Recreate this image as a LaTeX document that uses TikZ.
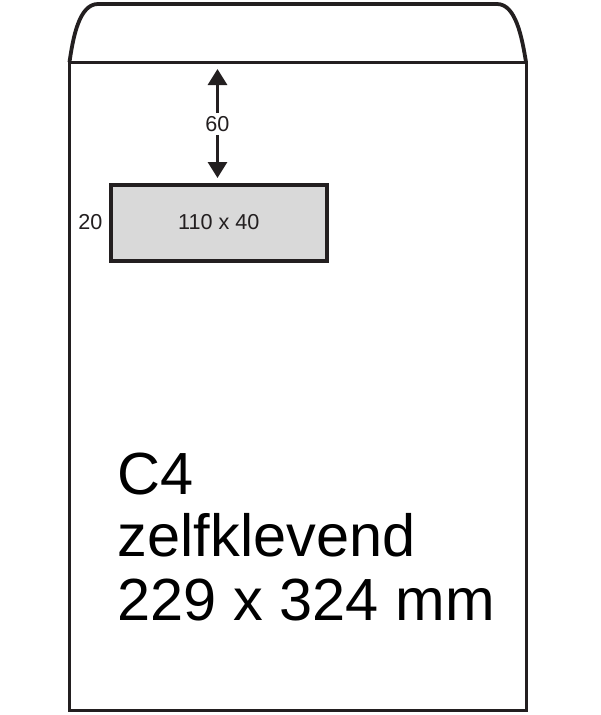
\documentclass[tikz,border=0pt]{standalone}
\usepackage{fontspec}
\setmainfont{Liberation Sans}
\usetikzlibrary{arrows.meta}
\definecolor{ink}{HTML}{231F20}
\definecolor{pane}{HTML}{D9D9D9}
\tikzset{
  outline/.style={draw=ink,line width=3pt,line join=miter},
  flapline/.style={draw=ink,line width=3.8pt,line cap=round,line join=round},
  windowbox/.style={draw=ink,fill=pane,line width=4pt,minimum width=216pt,minimum height=76pt,inner sep=0pt,font=\fontsize{21.6}{21.6}\selectfont,text=ink},
  smalltext/.style={inner sep=0pt,font=\fontsize{21.6}{21.6}\selectfont,text=ink},
  bigtext/.style={inner sep=0pt,anchor=base west,font=\fontsize{59.5}{59.5}\selectfont,text=black},
  dimarrow/.style={draw=ink,line width=3pt,-{Triangle[length=16pt,width=19pt]}}
}
\begin{document}
\begin{tikzpicture}[x=1pt,y=-1pt]
\useasboundingbox (0,0) rectangle (600,715);
\fill[white] (0,0) rectangle (600,715);
% envelope body
\draw[outline] (69.5,62) -- (69.5,710) -- (526,710) -- (526,62) -- cycle;
% flap
\draw[flapline] (69.5,62) .. controls (73,38) and (79,4) .. (98,4) -- (497,4) .. controls (516,4) and (522,38) .. (526,62);
% window
\node[windowbox] (win) at (218.75,223) {\raisebox{2pt}{110 x 40}};
\node[smalltext,anchor=east] (w20) at (102.5,222.5) {20};
% dimension
\coordinate (topedge) at (217.5,69);
\coordinate (winedge) at (217.5,178);
\node[smalltext] (h60) at (217.5,124) {60};
\draw[dimarrow] ([yshift=3pt]h60.north) -- (topedge);
\draw[dimarrow] ([yshift=-3pt]h60.south) -- (winedge);
% text
\node[bigtext] (l1) at (117.5,494) {C4};
\node[bigtext] (l2) at (117.5,556.5) {zelfklevend};
\node[bigtext] (l3) at (117.5,620) {229 x 324 mm};
\end{tikzpicture}
\end{document}
